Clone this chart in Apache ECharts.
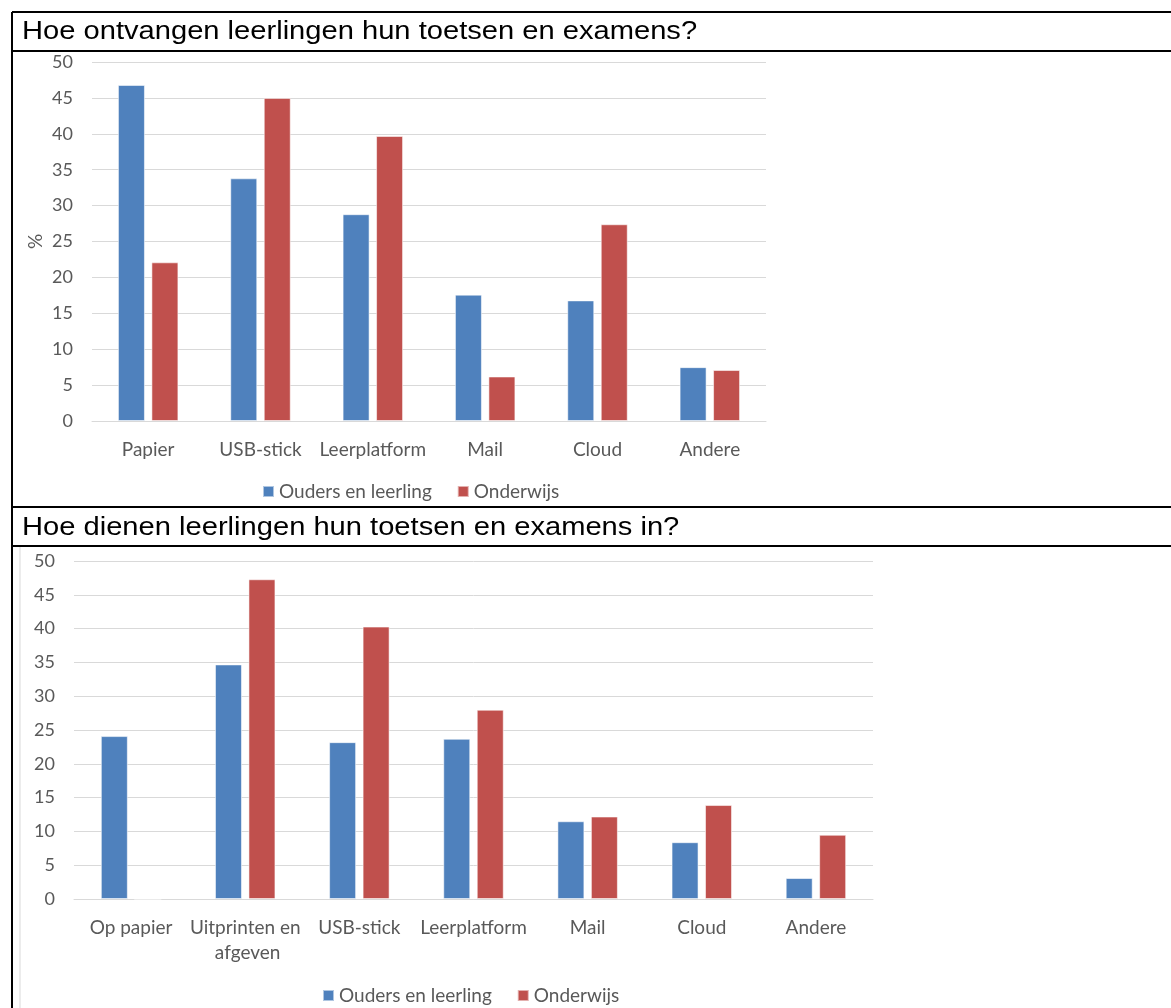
<!DOCTYPE html>
<html>
<head>
<meta charset="utf-8">
<script src="https://cdn.jsdelivr.net/npm/echarts@6/dist/echarts.min.js"></script>
<style>
html,body{margin:0;padding:0;background:#fff;}
#c{width:1171px;height:1008px;}
</style>
</head>
<body>
<div id="c"></div>
<script>
// ---- Data ----
const title1 = 'Hoe ontvangen leerlingen hun toetsen en examens?';
const title2 = 'Hoe dienen leerlingen hun toetsen en examens in?';
const seriesNames = ['Ouders en leerling', 'Onderwijs'];

const categories1 = ['Papier', 'USB-stick', 'Leerplatform', 'Mail', 'Cloud', 'Andere'];
const ouders1 = [46.8, 33.8, 28.8, 17.6, 16.8, 7.5];
const onderwijs1 = [22.1, 45.0, 39.7, 6.2, 27.4, 7.1];

const categories2 = ['Op papier', 'Uitprinten en afgeven', 'USB-stick', 'Leerplatform', 'Mail', 'Cloud', 'Andere'];
const ouders2 = [24.1, 34.7, 23.2, 23.7, 11.5, 8.4, 3.1];
const onderwijs2 = [0, 47.3, 40.3, 28.0, 12.2, 13.9, 9.5];

const yTicks = { min: 0, max: 50, interval: 5 };

// ---- Styles ----
const BLUE = '#4F81BD', RED = '#C0504D';
const FONT = 'Lato';
const TXT = '#595959';
const GRID = '#d9d9d9';

const chart = echarts.init(document.getElementById('c'), null, { renderer: 'canvas' });

function line(x1, y1, x2, y2, w, color) {
  return { type: 'line', shape: { x1, y1, x2, y2 }, style: { stroke: color || '#000', lineWidth: w || 2 }, silent: true, z: 100 };
}
function titleText(text, y) {
  return { type: 'text', x: 22, y: y, scaleX: 1.12, silent: true, z: 100,
    style: { text: text, font: '26px "Liberation Sans", Arial, sans-serif', fill: '#000', textVerticalAlign: 'middle', textAlign: 'left' } };
}

const yAxisBase = {
  type: 'value', min: yTicks.min, max: yTicks.max, interval: yTicks.interval,
  axisLine: { show: false }, axisTick: { show: false },
  splitLine: { lineStyle: { color: GRID, width: 1 } },
  axisLabel: { color: TXT, fontFamily: FONT, fontSize: 18, margin: 19 }
};
const xAxisBase = {
  type: 'category',
  axisLine: { lineStyle: { color: GRID, width: 1 } },
  axisTick: { show: false },
  axisLabel: { color: TXT, fontFamily: FONT, fontSize: 19, margin: 16, interval: 0, lineHeight: 25 }
};

function barSeries(name, data, color, idx) {
  return {
    name, type: 'bar', data, xAxisIndex: idx, yAxisIndex: idx,
    barWidth: 27, barGap: '24%',
    itemStyle: { color, borderColor: 'rgba(255,255,255,0.55)', borderWidth: 1 },
    emphasis: { disabled: true }, animation: false
  };
}

const legendBase = { data: seriesNames, itemWidth: 11, itemHeight: 11, itemGap: 25, icon: 'rect',
  textStyle: { color: TXT, fontFamily: FONT, fontSize: 19 } };

chart.setOption({
  animation: false,
  textStyle: { fontFamily: FONT },
  legend: [
    Object.assign({}, legendBase, { left: 257, top: 477 }),
    Object.assign({}, legendBase, { left: 317, top: 981 })
  ],
  grid: [
    { left: 92, right: 1171 - 766, top: 62, height: 359 },
    { left: 74, right: 1171 - 873, top: 561, height: 338 }
  ],
  xAxis: [
    Object.assign({}, xAxisBase, { gridIndex: 0, data: categories1 }),
    Object.assign({}, xAxisBase, { gridIndex: 1, data: categories2,
      axisLabel: Object.assign({}, xAxisBase.axisLabel, { width: 112, overflow: 'break' }) })
  ],
  yAxis: [
    Object.assign({}, yAxisBase, { gridIndex: 0, name: '%', nameLocation: 'middle', nameGap: 47, nameRotate: 90,
      nameMoveOverlap: false,
      nameTextStyle: { color: TXT, fontFamily: FONT, fontSize: 19 } }),
    Object.assign({}, yAxisBase, { gridIndex: 1 })
  ],
  series: [
    barSeries(seriesNames[0], ouders1, BLUE, 0),
    barSeries(seriesNames[1], onderwijs1, RED, 0),
    barSeries(seriesNames[0], ouders2, BLUE, 1),
    barSeries(seriesNames[1], onderwijs2, RED, 1)
  ],
  graphic: [
    line(12, 12, 1171, 12, 2),
    line(12, 12, 12, 1008, 2),
    line(12, 51, 1171, 51, 2),
    line(12, 507, 1171, 507, 2),
    line(12, 546, 1171, 546, 2),
    line(20, 547, 20, 1008, 1, '#d9d9d9'),
    titleText(title1, 32),
    titleText(title2, 528)
  ]
});
</script>
</body>
</html>
